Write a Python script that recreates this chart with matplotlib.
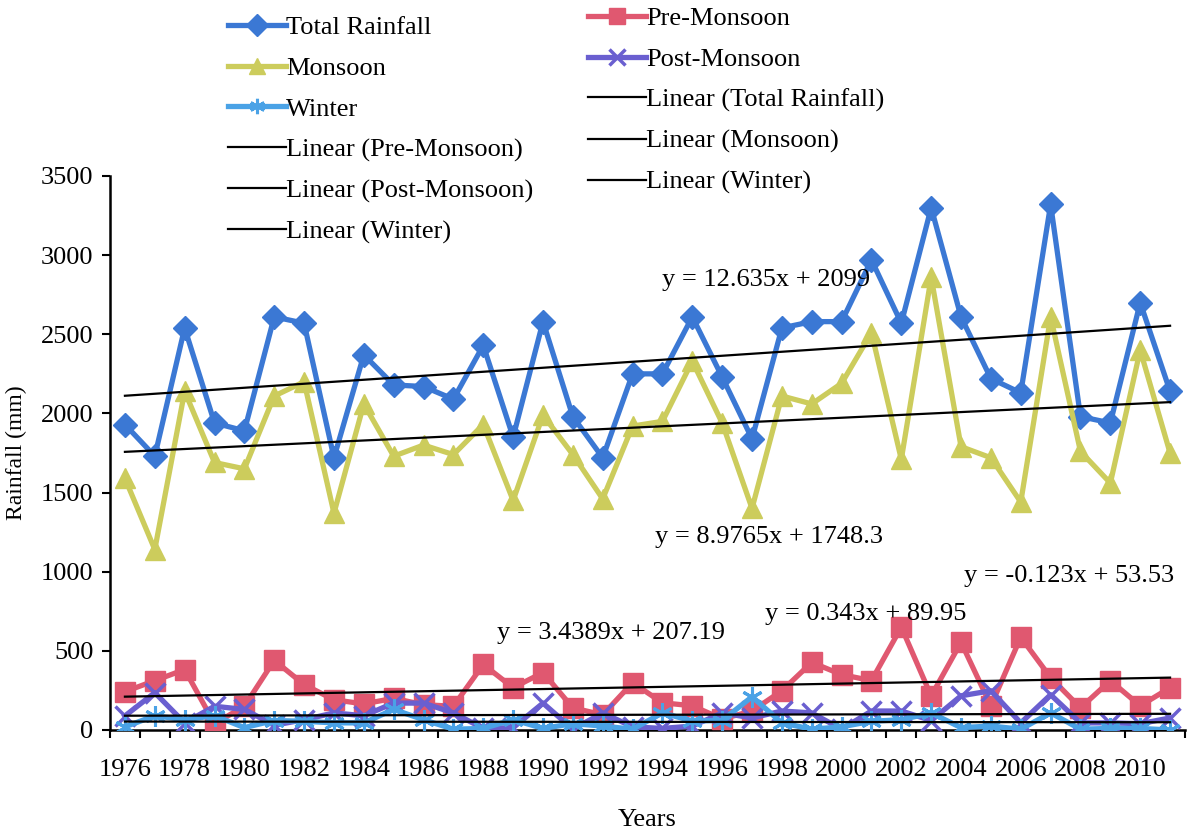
import numpy as np
import matplotlib
matplotlib.use("Agg")
import matplotlib.pyplot as plt

plt.rcParams['font.family'] = ['Liberation Serif', 'DejaVu Serif']

years = list(range(1976, 2012))

total_rainfall = [1930, 1730, 2540, 1940, 1890, 2610, 2570, 1720, 2370, 2180,
                  2170, 2090, 2430, 1850, 2580, 1980, 1720, 2250, 2250, 2610,
                  2230, 1840, 2540, 2580, 2580, 2970, 2570, 3300, 2610, 2220,
                  2130, 3320, 1980, 1940, 2700, 2140]
pre_monsoon = [242, 312, 382, 40, 150, 440, 287, 191, 165, 200,
               160, 150, 414, 267, 363, 140, 96, 299, 172, 153,
               70, 120, 248, 427, 350, 312, 650, 215, 554, 153,
               586, 331, 140, 312, 153, 267]
monsoon = [1590, 1140, 2140, 1690, 1650, 2110, 2200, 1370, 2060, 1730,
           1800, 1740, 1930, 1450, 1990, 1740, 1460, 1920, 1950, 2330,
           1940, 1400, 2110, 2060, 2190, 2510, 1710, 2860, 1790, 1720,
           1440, 2610, 1760, 1560, 2400, 1750]
post_monsoon = [89, 236, 45, 150, 130, 30, 65, 108, 90, 170,
                170, 108, 10, 15, 170, 5, 108, 20, 10, 25,
                108, 76, 120, 108, 5, 120, 120, 60, 216, 248,
                45, 223, 45, 45, 40, 76]
winter = [20, 90, 65, 90, 15, 60, 55, 45, 45, 130,
          65, 5, 10, 65, 10, 40, 25, 5, 108, 57,
          60, 210, 45, 5, 20, 55, 65, 108, 15, 25,
          5, 108, 5, 10, 10, 0]

# Trend equations (x = 1 for the first year)
trend_total = (12.635, 2099)
trend_pre = (3.4389, 207.19)
trend_monsoon = (8.9765, 1748.3)
trend_post = (0.343, 89.95)
trend_winter = (-0.123, 53.53)

c_total = '#3b78d4'
c_pre = '#e05870'
c_monsoon = '#cccc5c'
c_post = '#6a5fd0'
c_winter = '#4aa2e6'

fig = plt.figure(figsize=(11.87, 8.35), dpi=100)
ax = fig.add_axes([110 / 1187, 105 / 835, 1075 / 1187, 554 / 835])

lw = 3.8
h_total, = ax.plot(years, total_rainfall, color=c_total, lw=lw, marker='D',
                   ms=12, mec=c_total, mfc=c_total, label='Total Rainfall', zorder=3)
h_pre, = ax.plot(years, pre_monsoon, color=c_pre, lw=lw, marker='s',
                 ms=14, mec=c_pre, mfc=c_pre, label='Pre-Monsoon', zorder=3)
h_mon, = ax.plot(years, monsoon, color=c_monsoon, lw=lw, marker='^',
                 ms=14, mec=c_monsoon, mfc=c_monsoon, label='Monsoon', zorder=3)
h_post, = ax.plot(years, post_monsoon, color=c_post, lw=lw, marker='x',
                  ms=14, mew=2.5, mec=c_post, label='Post-Monsoon', zorder=3)
h_win, = ax.plot(years, winter, color=c_winter, lw=lw, marker=(6, 2, 0),
                 ms=15, mew=2.2, mec=c_winter, label='Winter', zorder=3)

idx = np.arange(1, len(years) + 1)
trend_handles = {}
for key, (m, b) in [('Total Rainfall', trend_total), ('Pre-Monsoon', trend_pre),
                    ('Monsoon', trend_monsoon), ('Post-Monsoon', trend_post),
                    ('Winter', trend_winter)]:
    h, = ax.plot(years, m * idx + b, color='black', lw=1.6, zorder=4,
                 label=f'Linear ({key})')
    trend_handles[key] = h

ax.set_xlim(1975.5, 2011.5)
ax.set_ylim(0, 3500)
ax.set_yticks(range(0, 3501, 500))
ax.set_xticks(np.arange(1975.5, 2012, 1.0))
ax.set_xticklabels([])
ax.set_xticks(range(1976, 2012, 2), minor=True)
ax.set_xticklabels([str(y) for y in range(1976, 2012, 2)], minor=True)
ax.tick_params(axis='x', which='major', direction='out', length=6, width=1.5)
ax.tick_params(axis='x', which='minor', length=0, pad=21, labelsize=19)
ax.tick_params(axis='y', direction='out', length=6, width=1.5, pad=6, labelsize=19)
for s in ['top', 'right']:
    ax.spines[s].set_visible(False)
for s in ['left', 'bottom']:
    ax.spines[s].set_linewidth(1.8)

ax.set_xlabel('Years', fontsize=19, labelpad=20)
ax.set_ylabel('Rainfall (mm)', fontsize=17, labelpad=10)

eq_kw = dict(fontsize=19, ha='left', va='center', zorder=5)
ax.text(1994.0, 2840, 'y = 12.635x + 2099', **eq_kw)
ax.text(1993.75, 1220, 'y = 8.9765x + 1748.3', **eq_kw)
ax.text(1988.45, 610, 'y = 3.4389x + 207.19', **eq_kw)
ax.text(1997.45, 735, 'y = 0.343x + 89.95', **eq_kw)
ax.text(2004.1, 970, 'y = -0.123x + 53.53', **eq_kw)

leg_kw = dict(frameon=False, fontsize=19, handlelength=2.2, handletextpad=0.0,
              labelspacing=0.65, borderpad=0, borderaxespad=0)
col1 = [h_total, h_mon, h_win, trend_handles['Pre-Monsoon'],
        trend_handles['Post-Monsoon'], trend_handles['Winter']]
col2 = [h_pre, h_post, trend_handles['Total Rainfall'],
        trend_handles['Monsoon'], trend_handles['Winter']]
leg1 = fig.legend(handles=col1, labels=[h.get_label() for h in col1],
                  loc='upper left', bbox_to_anchor=(228 / 1187, 1 - 16 / 835), **leg_kw)
leg2 = fig.legend(handles=col2, labels=[h.get_label() for h in col2],
                  loc='upper left', bbox_to_anchor=(588 / 1187, 1 - 7 / 835), **leg_kw)
for leg in (leg1, leg2):
    for ln in leg.get_lines():
        if ln.get_marker() not in ('None', None, ''):
            ln.set_markersize(11)

fig.savefig('out.png', dpi=100, facecolor='white')
